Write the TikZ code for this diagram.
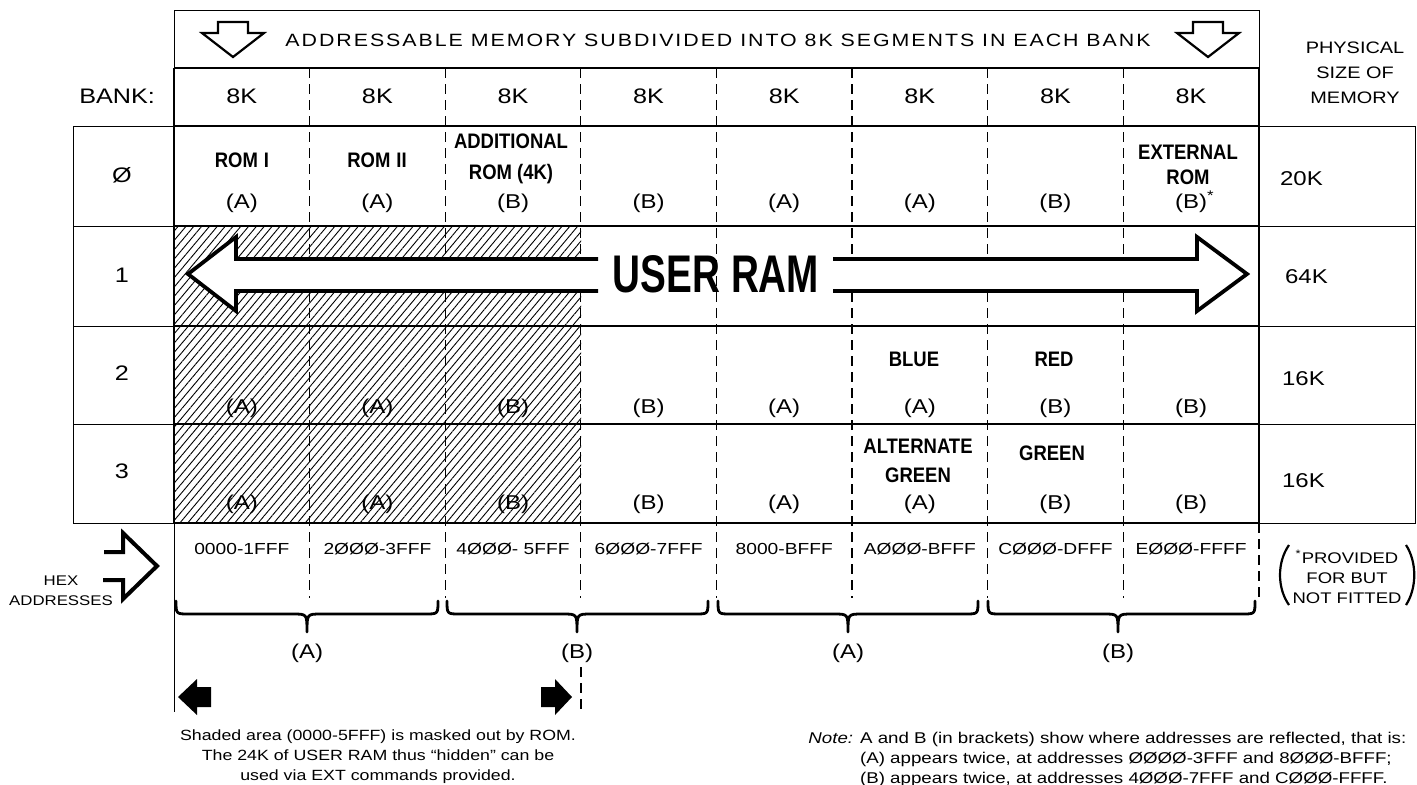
\documentclass[tikz,border=0pt]{standalone}
\usepackage{fontspec}
\setmainfont{Liberation Sans}[FakeStretch=1.2]
\newfontfamily\headfont{Liberation Sans}[FakeStretch=1.2,LetterSpace=11]
\newfontfamily\tagfont{Liberation Sans}[FakeStretch=0.88]
\newfontfamily\ramfont{Liberation Sans}[FakeStretch=0.73]
\usetikzlibrary{patterns.meta,calc,positioning,arrows.meta}

% brace under the hex addresses: left end, tip, right end
\newcommand{\curlybrace}[3]{%
  \draw[curly] (#1,601) .. controls (#1,614) .. (#1+13,614) -- (#2-14,614)
    .. controls (#2,614) .. (#2,632) .. controls (#2,614) .. (#2+14,614)
    -- (#3-13,614) .. controls (#3,614) .. (#3,601);}

\begin{document}
\begin{tikzpicture}[x=0.5pt, y=-0.5pt,
    gridline/.style={line width=0.5pt},
    boldline/.style={line width=1.4pt},
    divider/.style={line width=0.55pt, dash pattern=on 5pt off 3pt},
    curly/.style={line width=1.4pt, line cap=round, line join=round},
    hollow/.style={line width=1.1pt, line join=miter, fill=white},
    bigarrow/.style={line width=1.9pt, line join=miter},
    seg/.style={font=\fontsize{10.5}{12}\selectfont, anchor=base},
    refl/.style={font=\fontsize{10}{12}\selectfont, anchor=base},
    tag/.style={font=\tagfont\bfseries\fontsize{10.5}{14}\selectfont, anchor=base, align=center},
    hexaddr/.style={font=\fontsize{8}{10}\selectfont, anchor=base},
    memsize/.style={font=\fontsize{10}{12}\selectfont, anchor=base west},
    note/.style={font=\fontsize{7.4}{10}\selectfont, anchor=base, align=center},
]
\useasboundingbox (0,0) rectangle (1417,784);

% shaded (hidden) part of the user RAM
\fill[pattern={Lines[angle=50,distance=3pt,line width=0.45pt]}] (174,226) rectangle (581,523);

% 8K segment boundaries
\foreach \i in {1,...,7}
  \draw[divider] ({174+135.6*\i},68) -- ({174+135.6*\i},598);
\draw[divider] (1259,523) -- (1259,598);
\draw[divider] (581,667) -- (581,712);
\draw[gridline] (174,523) -- (174,712);

% USER RAM arrow, white inside, open round the title
\fill[white] (598,259) -- (236,259) -- (236,237) -- (188,274) -- (236,311) -- (236,291) -- (598,291) -- cycle;
\fill[white] (833,259) -- (1197,259) -- (1197,237) -- (1247,274) -- (1197,311) -- (1197,291) -- (833,291) -- cycle;
\draw[bigarrow] (598,259) -- (236,259) -- (236,237) -- (188,274) -- (236,311) -- (236,291) -- (598,291);
\draw[bigarrow] (833,259) -- (1197,259) -- (1197,237) -- (1247,274) -- (1197,311) -- (1197,291) -- (833,291);

% frames
\draw[gridline] (174,68) -- (174,10) -- (1259,10) -- (1259,68);
\draw[gridline] (174,126) -- (73,126) -- (73,523) -- (174,523);
\draw[gridline] (1259,126) -- (1415,126) -- (1415,523) -- (1259,523);
\foreach \y in {226,326,424} {
  \draw[gridline] (73,\y) -- (174,\y);
  \draw[gridline] (1259,\y) -- (1415,\y);
}
\foreach \y in {68,126,226,326,424,523}
  \draw[boldline] (174,\y) -- (1259,\y);
\draw[boldline] (174,68) -- (174,523);
\draw[boldline] (1259,68) -- (1259,523);

% heading
\foreach \cx in {233,1208}
  \draw[hollow] (\cx-15,22) -- (\cx+15,22) -- (\cx+15,33) -- (\cx+31,33) -- (\cx,57) -- (\cx-31,33) -- (\cx-15,33) -- cycle;
\node[font=\headfont\fontsize{8.9}{10}\selectfont, anchor=base] (title) at (718,46) {ADDRESSABLE MEMORY SUBDIVIDED INTO 8K SEGMENTS IN EACH BANK};
\node[font=\fontsize{8.3}{12.5}\selectfont, align=center, anchor=base] (phys) at (1355,103) {PHYSICAL\\SIZE OF\\MEMORY};

\node[seg, anchor=base east] (banklbl) at (162,103) {BANK:};
\foreach \i in {1,...,8}
  \node[seg] (k\i) at ({174+135.6*(\i-0.5)},103) {8K};
\foreach \b/\t/\y in {0/Ø/182, 1/1/282, 2/2/380, 3/3/478}
  \node[seg] (bank\b) at (122,\y) {\t};

\node[memsize] (m0) at (1273,185) {20K};
\node[memsize] (m1) at (1278,283) {64K};
\node[memsize] (m2) at (1275,385) {16K};
\node[memsize] (m3) at (1275,487) {16K};

% what sits in each segment
\node[tag] (rom1) at (242,167) {ROM\hspace{3pt}I};
\node[tag] (rom2) at (377,167) {ROM\hspace{3pt}II};
\node[tag] (addrom) at (511,179) {ADDITIONAL\\[1.5pt]ROM (4K)};
\node[tag] (extrom) at (1188,184) {EXTERNAL\\[-1.5pt]ROM};
\node[tag] (blue) at (914,366) {BLUE};
\node[tag] (red) at (1054,366) {RED};
\node[tag] (altgreen) at (918,482) {ALTERNATE\\[0.5pt]GREEN};
\node[tag] (green) at (1052,460) {GREEN};
\node[font=\ramfont\bfseries\fontsize{26.5}{30}\selectfont, anchor=base] (userram) at (716,292) {USER RAM};

\foreach \i/\t in {1/A,2/A,3/B,4/B,5/A,6/A,7/B}
  \node[refl] (r0c\i) at ({174+135.6*(\i-0.5)},208) {(\t)};
\node[refl] (r0c8) at (1191,208) {(B)\rlap{\textsuperscript{*}}};
\foreach \i/\t in {1/A,2/A,3/B,4/B,5/A,6/A,7/B,8/B} {
  \node[refl] (r2c\i) at ({174+135.6*(\i-0.5)},413) {(\t)};
  \node[refl] (r3c\i) at ({174+135.6*(\i-0.5)},509) {(\t)};
}

% hex addresses
\draw[line width=2pt, line join=miter] (104,552) -- (123,552) -- (123,533) -- (157,566) -- (123,599) -- (123,580) -- (103,580);
\node[font=\fontsize{7}{10}\selectfont, align=center, anchor=base] (hexlbl) at (61,605) {HEX\\ADDRESSES};
\foreach \i/\t in {1/0000-1FFF, 2/2ØØØ-3FFF, 3/4ØØØ- 5FFF, 4/6ØØØ-7FFF, 5/8000-BFFF, 6/AØØØ-BFFF, 7/CØØØ-DFFF, 8/EØØØ-FFFF}
  \node[hexaddr] (hex\i) at ({174+135.6*(\i-0.5)},554) {\t};

\curlybrace{176}{307}{438}
\curlybrace{447}{577}{708}
\curlybrace{718}{848}{978}
\curlybrace{988}{1118}{1255}
\foreach \x/\t [count=\n] in {307/A, 577/B, 848/A, 1118/B}
  \node[refl] (half\n) at (\x,658) {(\t)};

\node[font=\fontsize{7.7}{10}\selectfont, align=center, anchor=base] (provided) at (1347,603) {\textsuperscript{*}PROVIDED\\FOR BUT\\NOT FITTED};
\draw[line width=1.1pt] (1289,545) .. controls (1277,562) and (1277,588) .. (1289,605);
\draw[line width=1.1pt] (1406,545) .. controls (1417,562) and (1417,588) .. (1406,605);

% masked area and notes
\fill (178,697) -- (197,679) -- (197,687) -- (211,687) -- (211,707) -- (197,707) -- (197,715) -- cycle;
\fill (572,697) -- (555,679) -- (555,687) -- (541,687) -- (541,707) -- (555,707) -- (555,715) -- cycle;
\node[note] (masknote) at (378,780) {Shaded area (0000-5FFF) is masked out by ROM.\\The 24K of USER RAM thus ``hidden'' can be\\used via EXT commands provided.};
\node[font=\fontsize{7.8}{10}\selectfont, anchor=base west, inner sep=0pt] (reflnote) at (808,743) {\begin{tabular}[t]{@{}l@{ }l@{}}\textit{Note:} & A and B (in brackets) show where addresses are reflected, that is:\\ & (A) appears twice, at addresses ØØØØ-3FFF and 8ØØØ-BFFF;\\ & (B) appears twice, at addresses 4ØØØ-7FFF and CØØØ-FFFF.\end{tabular}};
\end{tikzpicture}
\end{document}
